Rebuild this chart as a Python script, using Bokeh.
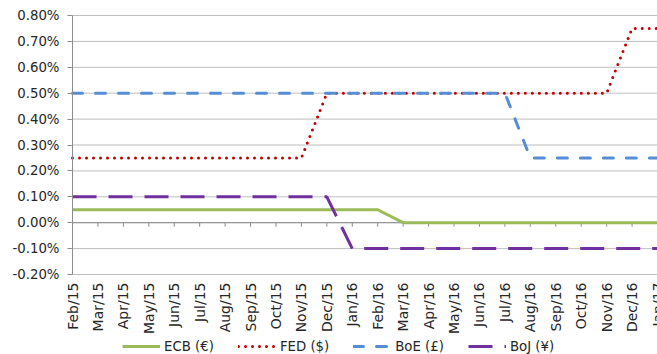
from math import pi
from bokeh.plotting import figure
from bokeh.models import (Range1d, FixedTicker, PrintfTickFormatter,
                          Legend, LegendItem, ColumnDataSource)
from bokeh.core.properties import value
from bokeh.embed import file_html
from bokeh.resources import INLINE

# Monthly policy rates (%)
months = ["Feb/15", "Mar/15", "Apr/15", "May/15", "Jun/15", "Jul/15", "Aug/15",
          "Sep/15", "Oct/15", "Nov/15", "Dec/15", "Jan/16", "Feb/16", "Mar/16",
          "Apr/16", "May/16", "Jun/16", "Jul/16", "Aug/16", "Sep/16", "Oct/16",
          "Nov/16", "Dec/16", "Jan/17"]
ecb = [0.05, 0.05, 0.05, 0.05, 0.05, 0.05, 0.05, 0.05, 0.05, 0.05, 0.05, 0.05,
       0.05, 0.00, 0.00, 0.00, 0.00, 0.00, 0.00, 0.00, 0.00, 0.00, 0.00, 0.00]
fed = [0.25, 0.25, 0.25, 0.25, 0.25, 0.25, 0.25, 0.25, 0.25, 0.25, 0.50, 0.50,
       0.50, 0.50, 0.50, 0.50, 0.50, 0.50, 0.50, 0.50, 0.50, 0.50, 0.75, 0.75]
boe = [0.50, 0.50, 0.50, 0.50, 0.50, 0.50, 0.50, 0.50, 0.50, 0.50, 0.50, 0.50,
       0.50, 0.50, 0.50, 0.50, 0.50, 0.50, 0.25, 0.25, 0.25, 0.25, 0.25, 0.25]
boj = [0.10, 0.10, 0.10, 0.10, 0.10, 0.10, 0.10, 0.10, 0.10, 0.10, 0.10, -0.10,
       -0.10, -0.10, -0.10, -0.10, -0.10, -0.10, -0.10, -0.10, -0.10, -0.10,
       -0.10, -0.10]
y_ticks = [-0.2, -0.1, 0.0, 0.1, 0.2, 0.3, 0.4, 0.5, 0.6, 0.7, 0.8]

FONT = "DejaVu Sans"
TEXT = "#262626"
GRID = "#BFBFBF"
AXIS = "#8C8C8C"

W, H = 657, 354
TOP, LEFT = 15, 72
PLOT_H = 259          # pixel height of the -0.20% .. 0.80% band

idx = list(range(len(months)))
n = len(idx)
src = ColumnDataSource(dict(x=idx, ecb=ecb, fed=fed, boe=boe, boj=boj))

# The frame covers the whole canvas, so the value axis, month labels and
# legend all sit inside it; x=0 lands LEFT px in, 0.80% lands TOP px down.
y0, y1 = y_ticks[0], y_ticks[-1]
units_per_px = (y1 - y0) / PLOT_H
y_end = y1 + TOP * units_per_px
y_start = y1 - (H - TOP) * units_per_px
x_units_per_px = (idx[-1] - idx[0]) / (W - LEFT)
x_start = idx[0] - LEFT * x_units_per_px

p = figure(width=W, height=H, output_backend="svg", toolbar_location=None,
           x_range=Range1d(x_start, idx[-1]), y_range=Range1d(y_start, y_end),
           min_border_left=0, min_border_right=0, min_border_top=0,
           min_border_bottom=0)
p.outline_line_color = None
p.background_fill_color = "white"
p.border_fill_color = "white"
p.xaxis.visible = False
p.grid.visible = False

# Horizontal gridlines across the category span
p.segment(x0=[idx[0]] * len(y_ticks), y0=y_ticks, x1=[idx[-1]] * len(y_ticks),
          y1=y_ticks, line_color=GRID, line_width=1)

# Value axis pinned at the first category
ya = p.yaxis[0]
ya.fixed_location = idx[0]
ya.ticker = FixedTicker(ticks=y_ticks)
ya.bounds = (y0, y1)
ya.formatter = PrintfTickFormatter(format="%.2f%%")
ya.axis_line_color = AXIS
ya.major_tick_line_color = AXIS
ya.major_tick_out = 5
ya.major_tick_in = 0
ya.minor_tick_line_color = None
ya.major_label_standoff = 8
ya.major_label_text_font = FONT
ya.major_label_text_font_size = "13.3px"
ya.major_label_text_color = TEXT

# Category axis line crossing at zero, with small ticks hanging below it
p.segment(x0=[idx[0]], y0=[0], x1=[idx[-1]], y1=[0], line_color=AXIS,
          line_width=1)
tick_len = 4 * units_per_px
p.segment(x0=idx[1:], y0=[0] * (n - 1), x1=idx[1:], y1=[-tick_len] * (n - 1),
          line_color=AXIS, line_width=1)

# Month labels, rotated, hanging below the lowest gridline
p.text(x=idx, y=[y0] * n, text=months, angle=pi / 2, y_offset=8,
       text_align="right", text_baseline="middle", text_font=value(FONT),
       text_font_size="14px", text_color=TEXT)

r_ecb = p.line("x", "ecb", source=src, line_color="#9BBB59", line_width=3)
r_fed = p.line("x", "fed", source=src, line_color="#C00000", line_width=3,
               line_dash="0 7", line_cap="round")
r_boe = p.line("x", "boe", source=src, line_color="#558ED5", line_width=3,
               line_dash="10 13", line_cap="round")
r_boj = p.line("x", "boj", source=src, line_color="#7030A0", line_width=3,
               line_dash="24 12")

legend = Legend(items=[LegendItem(label="ECB (€)", renderers=[r_ecb]),
                       LegendItem(label="FED ($)", renderers=[r_fed]),
                       LegendItem(label="BoE (£)", renderers=[r_boe]),
                       LegendItem(label="BoJ (¥)", renderers=[r_boj])],
                orientation="horizontal", location=(LEFT + 50, 0),
                glyph_width=38, glyph_height=16, label_height=16,
                label_standoff=4, spacing=24, padding=0, margin=0,
                border_line_color=None, background_fill_alpha=0,
                label_text_font=FONT, label_text_font_size="13.3px",
                label_text_color=TEXT)
p.add_layout(legend)

open("out.html", "w").write(file_html(p, INLINE))
